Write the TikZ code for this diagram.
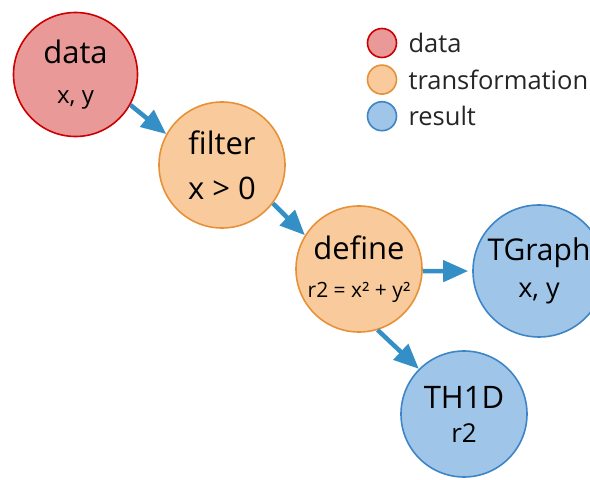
\documentclass[tikz,border=0pt]{standalone}
\usepackage{fontspec}
\setmainfont{Open Sans}
\usetikzlibrary{positioning, arrows.meta}

\definecolor{datafill}{RGB}{234,153,153}
\definecolor{dataline}{RGB}{204,0,0}
\definecolor{transfill}{RGB}{249,203,156}
\definecolor{transline}{RGB}{230,145,56}
\definecolor{resultfill}{RGB}{159,197,232}
\definecolor{resultline}{RGB}{61,133,198}
\definecolor{arrowblue}{RGB}{52,143,199}

\begin{document}
\begin{tikzpicture}[
        x=1pt, y=1pt,
        node distance=6pt,
        stage/.style={
            circle, line width=1.6pt, align=center, inner sep=0pt,
            minimum size=126pt
        },
        datanode/.style={stage, fill=datafill, draw=dataline},
        transnode/.style={stage, fill=transfill, draw=transline},
        resultnode/.style={stage, fill=resultfill, draw=resultline},
        legmark/.style={circle, line width=1.6pt, inner sep=0pt, minimum size=29pt},
        legtext/.style={font=\fontsize{25.5}{28}\selectfont, text=black!85, inner sep=0pt},
        flow/.style={->, line width=4.5pt, draw=arrowblue},
        >={Triangle[length=25pt, width=21pt]},
    ]
        \useasboundingbox (0,0) rectangle (590,480);

        % Pipeline nodes
        \node [datanode, minimum size=124pt, font=\fontsize{31}{40}\selectfont] (data) at (75.5,405.5)
            {data\\{\fontsize{24}{40}\selectfont x, y}};
        \node [transnode, font=\fontsize{31}{45}\selectfont] (filter) at (222,315)
            {filter\\x > 0};
        \node [transnode, font=\fontsize{31}{38}\selectfont] (define) at (359,211)
            {define\\{\fontsize{21}{38}\selectfont r2 = x² + y²}};
        \node [resultnode, minimum size=132pt, font=\fontsize{30}{37}\selectfont] (tgraph) at (539,209)
            {TGraph\\{\fontsize{27}{37}\selectfont x, y}};
        \node [resultnode, font=\fontsize{31}{34}\selectfont] (th1d) at (464,66)
            {TH1D\\{\fontsize{26}{34}\selectfont r2}};

        % Legend
        \node [legmark, fill=datafill, draw=dataline] (legdata) at (382,437) {};
        \node [legmark, fill=transfill, draw=transline, below=6pt of legdata] (legtrans) {};
        \node [legmark, fill=resultfill, draw=resultline, below=6pt of legtrans] (legresult) {};
        \node [legtext, right=11pt of legdata] (legdatatext) {data};
        \node [legtext, right=11pt of legtrans] (legtranstext) {transformation};
        \node [legtext, right=11pt of legresult] (legresulttext) {result};

        % Arrows
        \draw [flow] (data.-29) -- (filter.151);
        \draw [flow] (filter.-37) -- (define.148);
        \draw [flow, shorten >=4pt] (define.-2) -- (tgraph.180);
        \draw [flow] (define.-73) -- (th1d.135);
    \end{tikzpicture}
\end{document}
